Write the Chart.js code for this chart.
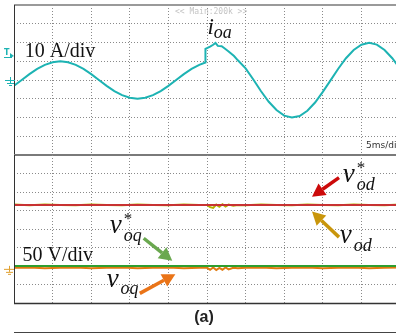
<!DOCTYPE html>
<html>
<head>
<meta charset="utf-8">
<script src="https://cdn.jsdelivr.net/npm/chart.js@4.4.1/dist/chart.umd.min.js"></script>
<style>
  html, body { margin: 0; padding: 0; background: #fff; overflow: hidden; width: 396px; height: 334px; }
  canvas { position: absolute; left: 0; top: 0; }
</style>
</head>
<body>
<canvas id="topChart" width="402" height="334"></canvas>
<canvas id="bottomChart" width="402" height="334"></canvas>
<script>
// time base: 5 ms/div, 10 divisions
var timeRange = [0, 50];
var timeStep = 5;

// top trace: output current i_oa (10 A/div)
var currentRange = [-40, 40];
var currentStep = 10;
var timeI = [0, 1, 2, 3, 4, 5, 6, 7, 8, 9, 10, 11, 12, 13, 14, 15, 16, 17, 18, 19, 20, 21, 22, 23, 24,
    24.8, 24.8, 25.4, 25.8, 26.1, 26.4, 26.9, 27.3, 27.8, 28.5, 29,
    30, 31, 32, 33, 34, 35, 36, 37, 38, 39, 40, 41, 42, 43, 44, 45, 46, 47, 48, 49, 50];
var ioa = [-3.1, 0.0, 3.1, 5.9, 8.1, 9.5, 10.0, 9.5, 8.1, 5.9, 3.1, 0.0, -3.1, -5.9, -8.1, -9.5, -10.0, -9.5, -8.1, -5.9, -3.1, 0.0, 3.1, 5.9, 8.1,
    9.3, 16.6, 17.8, 18.8, 19.8, 18.2, 18.0, 16.8, 15.2, 12.8, 10.5,
    6.2, 0.3, -6.0, -11.6, -16.0, -19.0, -20.0, -19.2, -16.4, -12.0, -6.3, -0.2, 6.0, 11.6, 16.0, 18.8, 19.8, 18.9, 16.0, 11.6, 6.0];

// bottom traces: dq voltages (50 V/div)
var voltRange = [-100, 300];
var voltStep = 50;
var timeRef = [0, 50];
var vodRef = [165, 165];
var voqRef = [0, 0];
var timeV = [0, 2, 4, 6, 8, 10, 12, 14, 16, 18, 20, 22, 24,
    25, 25.4, 25.8, 26.2, 26.6, 27, 27.4, 27.8, 28.4, 29,
    30, 32, 34, 36, 38, 40, 42, 44, 46, 48, 50];
var vod = [166, 164, 166, 165, 164, 166, 165, 164, 166, 165, 164, 166, 165,
    165, 159, 157, 166, 160, 167, 161, 166, 163, 165,
    164, 166, 165, 164, 166, 165, 164, 166, 165, 164, 166];
var voq = [-5, -4, -6, -5, -4, -6, -5, -4, -6, -5, -4, -6, -5,
    -5, -10, -4, -11, -5, -10, -4, -9, -5, -6,
    -5, -4, -6, -5, -4, -6, -5, -4, -6, -5, -4];

function pts(xs, ys) {
    return xs.map(function (x, k) { return { x: x, y: ys[k] }; });
}

function gridColor(edges) {
    return function (c) {
        if (c.tick && (c.tick.value === edges[0] || c.tick.value === edges[1])) return "rgba(0,0,0,0)";
        return "#8a8a8a";
    };
}

function xScale() {
    return {
        type: "linear", min: timeRange[0], max: timeRange[1],
        ticks: { display: false, stepSize: timeStep },
        grid: { color: gridColor(timeRange), lineWidth: 1, drawTicks: false },
        border: { display: false, dash: [1, 2] }
    };
}

function yScale(range, step) {
    return {
        type: "linear", min: range[0], max: range[1],
        ticks: { display: false, stepSize: step },
        grid: { color: gridColor(range), lineWidth: 1, drawTicks: false },
        border: { display: false, dash: [1, 2] }
    };
}

function line(ctx, x1, y1, x2, y2, color, w) {
    ctx.save();
    ctx.strokeStyle = color;
    ctx.lineWidth = w;
    ctx.beginPath();
    ctx.moveTo(x1, y1);
    ctx.lineTo(x2, y2);
    ctx.stroke();
    ctx.restore();
}

function arrow(chart, a) {
    var ctx = chart.ctx, sx = chart.scales.x, sy = chart.scales.y;
    var x1 = sx.getPixelForValue(a.from[0]), y1 = sy.getPixelForValue(a.from[1]);
    var x2 = sx.getPixelForValue(a.to[0]), y2 = sy.getPixelForValue(a.to[1]);
    var ang = Math.atan2(y2 - y1, x2 - x1), head = 13, half = 7;
    var bx = x2 - head * Math.cos(ang), by = y2 - head * Math.sin(ang);
    ctx.save();
    ctx.strokeStyle = a.color;
    ctx.fillStyle = a.color;
    ctx.lineWidth = 3.5;
    ctx.beginPath();
    ctx.moveTo(x1, y1);
    ctx.lineTo(bx, by);
    ctx.stroke();
    ctx.beginPath();
    ctx.moveTo(x2, y2);
    ctx.lineTo(bx + half * Math.sin(ang), by - half * Math.cos(ang));
    ctx.lineTo(bx - half * Math.sin(ang), by + half * Math.cos(ang));
    ctx.closePath();
    ctx.fill();
    ctx.restore();
}

function label(chart, a) {
    var ctx = chart.ctx;
    var x = chart.scales.x.getPixelForValue(a.at[0]);
    var y = chart.scales.y.getPixelForValue(a.at[1]);
    ctx.save();
    ctx.fillStyle = "#111";
    ctx.textAlign = "left";
    ctx.textBaseline = "alphabetic";
    ctx.font = (a.italic ? "italic " : "") + a.size + "px 'Liberation Serif'";
    ctx.fillText(a.text, x, y);
    var w = ctx.measureText(a.text).width;
    if (a.sub) {
        ctx.font = "italic " + a.subSize + "px 'Liberation Serif'";
        ctx.fillText(a.sub, x + w + a.subDx, y + a.subDy);
    }
    if (a.star) {
        ctx.font = "17px 'Liberation Serif'";
        ctx.fillText("*", x + w + 2, y - 9);
    }
    ctx.restore();
}

function groundMark(ctx, x, y, color) {
    ctx.save();
    ctx.strokeStyle = color;
    ctx.lineWidth = 1;
    line(ctx, x - 5, y + 0.5, x + 5, y + 0.5, color, 1);
    line(ctx, x + 0.5, y - 3, x + 0.5, y + 3, color, 1);
    line(ctx, x - 3, y + 3.5, x + 4, y + 3.5, color, 1);
    line(ctx, x - 1, y + 5.5, x + 2, y + 5.5, color, 1);
    ctx.restore();
}

var topLabels = [
    { text: "10 A/div", at: [1.4, 12.3], size: 20, italic: false },
    { text: "i", at: [25.05, 24.3], size: 23, italic: true, sub: "oa", subSize: 18, subDx: 0, subDy: 4 }
];

var bottomLabels = [
    { text: "50 V/div", at: [1.1, 13], size: 20, italic: false },
    { text: "v", at: [42.6, 228], size: 27, italic: true, sub: "od", subSize: 18, subDx: 2, subDy: 8, star: true },
    { text: "v", at: [42.2, 61], size: 27, italic: true, sub: "od", subSize: 18, subDx: 2, subDy: 8 },
    { text: "v", at: [12.4, 88], size: 27, italic: true, sub: "oq", subSize: 18, subDx: 2, subDy: 8, star: true },
    { text: "v", at: [12.0, -56], size: 27, italic: true, sub: "oq", subSize: 18, subDx: 2, subDy: 7 }
];

var bottomArrows = [
    { from: [42.1, 239], to: [38.6, 187], color: "#cc0a0a" },
    { from: [42.1, 78], to: [38.6, 147], color: "#c9960c" },
    { from: [16.8, 75], to: [20.5, 14], color: "#6aa84f" },
    { from: [16.3, -74], to: [20.9, -22], color: "#ea7418" }
];

new Chart(document.getElementById("topChart").getContext("2d"), {
    type: "line",
    data: {
        datasets: [{
            data: pts(timeI, ioa),
            borderColor: "#1db3b3",
            borderWidth: 2,
            pointRadius: 0,
            tension: 0,
            fill: false
        }]
    },
    options: {
        responsive: false,
        animation: false,
        layout: { padding: { left: 14, right: 2, top: 5, bottom: 179 } },
        plugins: { legend: { display: false }, tooltip: { enabled: false } },
        scales: { x: xScale(), y: yScale(currentRange, currentStep) }
    },
    plugins: [{
        id: "scopeTop",
        afterDraw: function (chart) {
            var ctx = chart.ctx, a = chart.chartArea;
            line(ctx, a.left, a.top, 402, a.top, "#9a9a9a", 2);
            line(ctx, a.left + 0.5, a.top, a.left + 0.5, a.bottom, "#333", 1);
            line(ctx, a.left, a.bottom, 402, a.bottom, "#7a7a7a", 2);
            ctx.save();
            ctx.fillStyle = "#c4c4c4";
            ctx.font = "8px 'DejaVu Sans Mono'";
            ctx.textBaseline = "middle";
            ctx.fillText("<< Main:200k >>", 175, 12);
            ctx.fillStyle = "#333";
            ctx.font = "9px 'DejaVu Sans'";
            ctx.fillText("5ms/div", 366, 146);
            // channel markers
            ctx.fillStyle = "#1db3b3";
            ctx.font = "bold 8px 'DejaVu Sans'";
            ctx.fillText("T", 4, 53);
            ctx.beginPath();
            ctx.moveTo(10, 53);
            ctx.lineTo(14, 56);
            ctx.lineTo(10, 58);
            ctx.closePath();
            ctx.fill();
            ctx.restore();
            line(ctx, 4, 57.5, 12, 57.5, "#1db3b3", 1);
            groundMark(ctx, 10, chart.scales.y.getPixelForValue(0), "#1db3b3");
            topLabels.forEach(function (l) { label(chart, l); });
        }
    }]
});

new Chart(document.getElementById("bottomChart").getContext("2d"), {
    type: "line",
    data: {
        datasets: [
            { data: pts(timeRef, vodRef), borderColor: "#c83232", borderWidth: 2 },
            { data: pts(timeV, vod), borderColor: "#b5b000", borderWidth: 2 },
            { data: pts(timeRef, voqRef), borderColor: "#2f9e2f", borderWidth: 2 },
            { data: pts(timeV, voq), borderColor: "#e07a10", borderWidth: 2 }
        ].map(function (d) {
            d.pointRadius = 0;
            d.tension = 0;
            d.fill = false;
            return d;
        })
    },
    options: {
        responsive: false,
        animation: false,
        layout: { padding: { left: 14, right: 2, top: 155, bottom: 31 } },
        plugins: { legend: { display: false }, tooltip: { enabled: false } },
        scales: { x: xScale(), y: yScale(voltRange, voltStep) }
    },
    plugins: [{
        id: "scopeBottom",
        afterDraw: function (chart) {
            var ctx = chart.ctx, a = chart.chartArea;
            line(ctx, a.left + 0.5, a.top, a.left + 0.5, a.bottom, "#333", 1);
            line(ctx, a.left, a.bottom + 0.5, 402, a.bottom + 0.5, "#333", 1.5);
            line(ctx, a.left, 332.5, 402, 332.5, "#444", 1);
            groundMark(ctx, 9, chart.scales.y.getPixelForValue(-5) + 1, "#e0a030");
            ctx.save();
            ctx.fillStyle = "#222";
            ctx.font = "bold 16px 'Liberation Sans'";
            ctx.textAlign = "center";
            ctx.textBaseline = "middle";
            ctx.fillText("(a)", 204, 318);
            ctx.restore();
            bottomLabels.forEach(function (l) { label(chart, l); });
            bottomArrows.forEach(function (ar) { arrow(chart, ar); });
        }
    }]
});
</script>
</body>
</html>
